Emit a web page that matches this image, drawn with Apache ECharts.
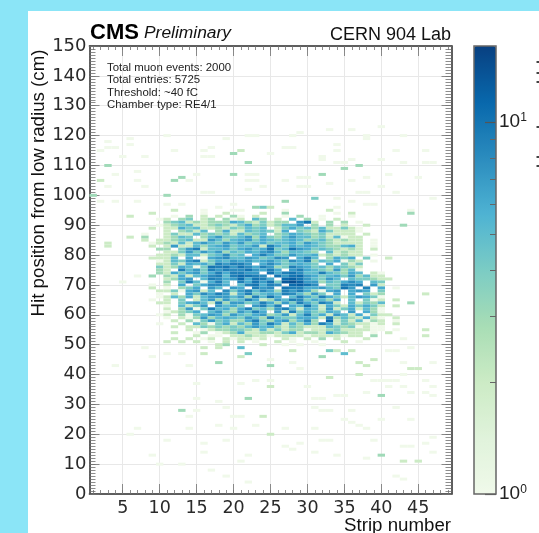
<!DOCTYPE html>
<html><head><meta charset="utf-8">
<style>html,body{margin:0;padding:0;background:#8be5f7;overflow:hidden}#p{position:absolute;left:28px;top:11px;right:0;bottom:0;background:#fff}#c{position:absolute;left:0;top:0;width:539px;height:533px;filter:blur(0.62px)}</style>
<script src="https://cdn.jsdelivr.net/npm/echarts@6/dist/echarts.min.js"></script>
</head><body><div id="p"></div><div id="c"></div>
<script>
// Counts per strip (columns 1..49); one character per cell: . = 0, 1-9, a=10 ... f=15
const denseTopRow = 96;
const denseRows = [
".......... .......1.. ..342..... ...1...... .........",
".......... .2...1...1 1.....1... ..2....... ...1.....",
"........2. .....1..2. ...2..3... ...1.2.... ...3.....",
".....2.... .1.3.2.2.3 1.2...1.3. .1...1.... .........",
".........1 2.34.23.31 2.53.2.5.3 .1.2...... .........",
".......... 3452323336 5324233.7a 2.3.3.1... .........",
".........1 2345223432 463423557. 3.3.2..2.. ..3......",
"........2. 2264522324 3545.24645 3522421... .........",
".......... 2.3425.362 2545426.43 2642221... .........",
".......1.. 2422534342 5345.34654 342222.2.. .........",
".....2.3.. 2354.35744 5736435755 3425122... .........",
".......2.2 2345227535 6746545653 4532322.1. .........",
"..2.....12 3252575475 7456455647 5432222.1. .........",
"..2.....2. 2722535674 5572964656 5433562.1. .........",
".........3 3.47925564 6756a45a76 4543232.2. .........",
".......... 2247475735 4657853554 3.52322... .........",
".........2 2325524584 5.69644755 6232322.1. .........",
"........22 25.6.16785 5764587.69 5.3646.4.. 2........",
".........1 2547924657 6756754869 3546132.1. .........",
".........2 2426564979 97.6864565 4.6.424... .........",
".........4 236514a9a7 a869734976 4535432... .........",
".........3 2.95749798 8a7696.796 5437351... .........",
".........3 2646746969 977.a69a85 5954365.21 .........",
"......1.3. 3262568959 ba98.a7ab7 6456473522 .........",
".......... 2367.59867 b6a96.bca7 5475.54432 2........",
"....1..... 3.4951695. 96a7a4dec7 7354686.54 .........",
"........1. 2.6.46886. 59a698.bca 8.44989.72 .........",
"........2. 1.346.75.7 6.978.a996 6754a7.9.6 .1.......",
".........2 2416725.84 7958639796 3167.676.4 .........",
".........1 .2.6486972 6945659853 7416.6.423 .....2...",
".........1 2536257775 7395a6.596 4964257641 .........",
"........1. 2.4.257374 5962375984 6536.5.412 .2.......",
".........2 2.46752937 7459637496 4972.52435 ...3.....",
".......... 1.5247.756 4.7959.65a 5264264642 .2.......",
".......... 2.37149563 6945379526 5272462531 .........",
".......... 12346.5743 7596.72946 4365.7.631 .........",
".........1 2.31457637 5467347259 4627526142 2........",
".......... 1.21373565 4753954466 5293532621 .2.......",
".......... .2.3147453 3694367358 3.b2425132 .1.......",
".........1 ..2.531462 5374962536 3962432212 .2.......",
".......... .2.2243434 3575632432 2254341211 .........",
".......... ...2.12334 4325242331 2234222211 .1...2...",
".......... .2..13.123 6223324623 3264322.1. 2........",
".......... ....2.11.2 2322122221 2222122.3. .....2...",
".......... .2.2.12.21 2212..21.2 .3.2...2.. ..1......",
".......... 2.2.2.1.2. 2.1..2.1.. 1...2.1... .........",
".......... .......23. ...2..1.1. .1........ ........."
];
// Isolated cells outside the dense block: [strip, position, count]
const isolatedCells = [
[16,49,2],[18,49,2],[21,49,5],[16,47,2],[22,47,4],[21,46,2],[18,44,3],[25,43,3],[22,32,3],[13,28,3],[24,26,2],[25,36,2],
[28,48,2],[33,48,4],[34,48,2],[35,47,5],[36,48,2],[32,46,3],[37,44,2],[38,43,2],[39,45,2],[44,42,2],[45,42,2],[37,40,2],[33,39,2],[40,33,3],[25,20,2],[40,13,3],[43,11,2],[45,11,2],
[3,110,3],[2,105,2],[1,100,3],[12,105,3],[13,106,3],[20,107,3],[20,114,3],[21,115,2],[22,111,3],[11,100,3],
[31,99,4],[27,98,3],[35,109,3],[37,110,3],[32,107,3]
];
const singleCountCells = [
[4,43],[8,49],[9,46],[11,47],[13,47],[14,43],[15,37],[15,32],[15,28],[14,26],[18,31],[19,29],[18,23],[20,22],[23,23],[7,22],[6,20],[14,22],[11,18],[16,17],[19,18],[16,14],[9,13],[22,13],[21,11],[10,10],[13,10],[17,8],[19,6],[22,4],[21,37],[23,38],[25,38],[20,26],[21,26],
[27,16],[28,15],[29,17],[32,18],[33,18],[34,13],[38,12],[31,14],[43,16],[44,16],[46,17],[47,19],[47,14],[39,18],[42,6],[43,5],[35,25],[36,24],[37,23],[38,22],[31,22],[27,22],[31,29],[32,28],[33,28],[36,28],[40,25],[44,25],[42,29],[31,32],[32,32],[34,33],[35,33],[38,34],[41,36],[43,36],[44,34],[46,34],[47,36],[47,33],[39,38],[40,38],[41,38],[42,38],[43,40],[46,38],[30,36],[29,42],[25,45],[28,44],[43,44],[47,44],[41,48],[42,48],[44,49],
[3,118],[6,119],[6,117],[2,115],[3,116],[4,116],[5,113],[8,113],[12,115],[16,115],[17,116],[16,113],[17,113],[19,119],[11,120],[22,120],[23,120],[4,107],[7,108],[3,103],[7,105],[8,103],[15,107],[14,105],[23,107],[22,107],[22,105],[23,105],[24,103],[22,102],[2,98],[4,98],[7,98],[11,97],[13,97],[16,101],[17,101],[20,97],
[33,122],[36,122],[40,123],[38,120],[38,119],[28,120],[29,121],[43,120],[46,115],[42,115],[34,117],[34,115],[27,116],[28,116],[25,114],[32,113],[32,112],[36,112],[40,112],[34,111],[35,111],[29,106],[30,106],[41,107],[45,106],[46,111],[47,111],[43,111],[27,105],[33,104],[29,103],[30,103],[36,105],[38,106],[40,103],[42,101],[37,101],[38,101],[47,99],[38,97],[39,97],[34,99],[36,98]
];
const stripMajor = [5,10,15,20,25,30,35,40,45];
const stripMinor = Array.from({length:49},(_,k)=>k+1);
const positionMajor = [0,10,20,30,40,50,60,70,80,90,100,110,120,130,140,150];
const positionMinor = Array.from({length:151},(_,k)=>k);
const colorbarDecades = [0,1];
const colorbarMinorCounts = [2,3,4,5,6,7,8,9];
const colorbarMaxCount = 16;
const colormap = ['#f0f9ea','#e0f3db','#ccebc5','#a8ddb5','#7bccc4','#4eb3d3','#2b8cbe','#0868ac','#084081'];
const statLines = ['Total muon events: 2000','Total entries: 5725','Threshold: ~40 fC','Chamber type: RE4/1'];

const cells = [];
denseRows.forEach((r,i)=>{
  const row = r.replace(/ /g,'');
  for(let c=0;c<row.length;c++){
    if(row[c]!=='.') cells.push([c+1,denseTopRow-i,Math.log10(parseInt(row[c],16))]);
  }
});
isolatedCells.forEach(a=>cells.push([a[0],a[1],Math.log10(a[2])]));
singleCountCells.forEach(a=>cells.push([a[0],a[1],0]));

const axisInk='#555', tickInk='#707070';
function mainAxis(pos,range,vals,len,major,label){
  return {type:'value',min:range[0],max:range[1],position:pos,gridIndex:0,scale:true,
    axisLine:{show:true,onZero:false,lineStyle:{color:axisInk,width:1.5}},
    axisTick:{show:true,inside:true,length:len,customValues:vals,lineStyle:{color:tickInk,width:0.8}},
    minorTick:{show:false},
    splitLine:{show:major,customValues:vals,lineStyle:{color:'#e8e8e8',width:1}},
    axisLabel:label?{show:true,customValues:vals,fontFamily:'DejaVu Sans',fontSize:label.size,color:'#2a2a2a',margin:label.margin}:{show:false}};
}
const xR=[0.5,49.5], yR=[0,150];
const xAxes=[
  mainAxis('bottom',xR,stripMajor,10,true,{size:17.5,margin:5}),
  mainAxis('bottom',xR,stripMinor,4,false),
  mainAxis('top',xR,stripMajor,10,false),
  mainAxis('top',xR,stripMinor,4,false),
  {type:'value',gridIndex:1,min:0,max:1,show:false}
];
const yAxes=[
  mainAxis('left',yR,positionMajor,10,true,{size:18,margin:3}),
  mainAxis('left',yR,positionMinor,6,false),
  mainAxis('right',yR,positionMajor,10,false),
  mainAxis('right',yR,positionMinor,6,false),
  {type:'value',gridIndex:1,position:'right',min:0,max:Math.log10(colorbarMaxCount),z:8,
    axisLine:{show:false,onZero:false},splitLine:{show:false},
    axisTick:{show:true,inside:true,length:11,customValues:colorbarDecades,lineStyle:{color:'#555',width:1.2}},
    axisLabel:{show:true,customValues:colorbarDecades,margin:3,fontFamily:'DejaVu Sans',color:'#333',
      formatter:v=>`{b|10}{s|${Math.round(v)}}`,
      rich:{b:{fontSize:19,fontFamily:'Liberation Sans',color:'#222'},s:{fontSize:12,fontFamily:'Liberation Sans',color:'#222',verticalAlign:'top',padding:[0,0,8,0]}}}},
  {type:'value',gridIndex:1,position:'right',min:0,max:Math.log10(colorbarMaxCount),z:8,
    axisLine:{show:false,onZero:false},splitLine:{show:false},axisLabel:{show:false},
    axisTick:{show:true,inside:true,length:6,customValues:colorbarMinorCounts.map(Math.log10),lineStyle:{color:'#666',width:1}}}
];

const sansText=(x,y,t,s,extra)=>({type:'text',x,y,silent:true,z:30,style:Object.assign({text:t,fontFamily:'Liberation Sans',fontSize:s,fill:'#111',textVerticalAlign:'middle'},extra||{})});
const graphicEls=[
  sansText(90,33,'CMS',22,{fontWeight:'bold',fill:'#000'}),
  sansText(144,33,'Preliminary',17.4,{fontStyle:'italic'}),
  sansText(451,35,'CERN 904 Lab',18,{textAlign:'right'}),
  sansText(451,526,'Strip number',18.7,{textAlign:'right'}),
  {type:'text',x:39,y:183,rotation:Math.PI/2,silent:true,z:30,style:{text:'Hit position from low radius (cm)',fontFamily:'Liberation Sans',fontSize:18.7,fill:'#111',textAlign:'center',textVerticalAlign:'middle'}}
];
statLines.forEach((t,i)=>graphicEls.push(sansText(107,68+i*12.2,t,11.4,{fill:'#222'})));
[62,73,82,127,157,166].forEach(y=>graphicEls.push({type:'rect',shape:{x:536.5,y:y-1,width:2.5,height:2},style:{fill:'#444'},silent:true}));

const chart=echarts.init(document.getElementById('c'),null,{renderer:'canvas'});
chart.setOption({
  animation:false,
  backgroundColor:'transparent',
  tooltip:{show:false},
  grid:[
    {left:89.5,top:46,width:362,height:448,show:false},
    {left:474,top:46,width:22,height:448,show:true,backgroundColor:'transparent',borderColor:'#666',borderWidth:1.5,z:10}
  ],
  xAxis:xAxes,yAxis:yAxes,
  visualMap:{type:'continuous',min:0,max:Math.log10(colorbarMaxCount),dimension:2,seriesIndex:0,
    left:474,top:46,itemWidth:22,itemHeight:448,padding:0,showLabel:false,text:null,calculable:false,hoverLink:false,realtime:false,
    inRange:{color:colormap},z:2},
  graphic:{elements:graphicEls},
  series:[{type:'custom',xAxisIndex:0,yAxisIndex:0,coordinateSystem:'cartesian2d',silent:true,z:1,
    encode:{x:0,y:1},data:cells,
    renderItem:(p,api)=>{
      const a=api.coord([api.value(0)-0.5,api.value(1)+0.5]);
      const b=api.coord([api.value(0)+0.5,api.value(1)-0.5]);
      return {type:'rect',shape:{x:a[0],y:a[1],width:b[0]-a[0],height:b[1]-a[1]},style:{fill:api.visual('color')}};
    }}]
});
</script></body></html>
